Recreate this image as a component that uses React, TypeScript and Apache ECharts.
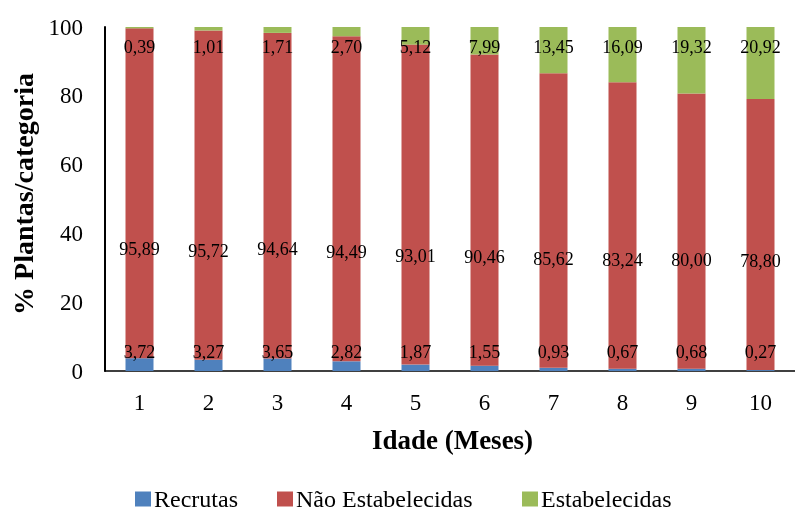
import React, { useEffect, useRef } from "react";
import * as echarts from "echarts";

const months = ["1", "2", "3", "4", "5", "6", "7", "8", "9", "10"];
const recrutas = [3.72, 3.27, 3.65, 2.82, 1.87, 1.55, 0.93, 0.67, 0.68, 0.27];
const naoEstabelecidas = [95.89, 95.72, 94.64, 94.49, 93.01, 90.46, 85.62, 83.24, 80.0, 78.8];
const estabelecidas = [0.39, 1.01, 1.71, 2.7, 5.12, 7.99, 13.45, 16.09, 19.32, 20.92];
const seriesNames = ["Recrutas", "Não Estabelecidas", "Estabelecidas"];

const serif = "Liberation Serif";
const fmt = (p: any) => Number(p.value).toFixed(2).replace(".", ",");

export default function App() {
  const ref = useRef<HTMLDivElement>(null);

  useEffect(() => {
    if (!ref.current) return;
    const chart = echarts.init(ref.current, null, { renderer: "svg" });
    const labelBase = {
      show: true,
      color: "#000",
      fontFamily: serif,
      fontSize: 18,
      formatter: fmt,
    };
    // one legend block per series so each entry sits at its own x
    const legendLefts = [135, 277, 522];
    const legends = seriesNames.map((name, i) => ({
      data: [{ name, textStyle: { fontFamily: serif } }],
      top: 487,
      left: legendLefts[i],
      padding: 0,
      itemWidth: 16,
      itemHeight: 15,
      itemGap: 0,
      icon: "rect",
      textStyle: {
        fontFamily: serif,
        fontSize: 24,
        lineHeight: 22,
        color: "#000",
        padding: [0, 0, 0, -2],
      },
    }));
    chart.setOption({
      animation: false,
      textStyle: { fontFamily: serif },
      grid: { left: 105, top: 27, bottom: 140, width: 703 },
      legend: legends,
      xAxis: {
        type: "category",
        data: months,
        axisTick: { show: false },
        axisLine: { lineStyle: { color: "#000", width: 1.5 } },
        axisLabel: { color: "#000", fontFamily: serif, fontSize: 23, margin: 20 },
        name: "Idade (Meses)",
        nameLocation: "middle",
        nameGap: 55,
        nameTextStyle: {
          color: "#000",
          fontFamily: serif,
          fontSize: 27,
          fontWeight: "bold",
          padding: [0, 0, 0, 5],
        },
      },
      yAxis: {
        type: "value",
        min: 0,
        max: 100,
        interval: 20,
        splitLine: { show: false },
        axisTick: { show: false },
        axisLine: { show: true, lineStyle: { color: "#000", width: 2 } },
        axisLabel: { color: "#000", fontFamily: serif, fontSize: 23, margin: 22 },
        name: "% Plantas/categoria",
        nameLocation: "middle",
        nameGap: 68,
        nameTextStyle: {
          color: "#000",
          fontFamily: serif,
          fontSize: 28,
          fontWeight: "bold",
          padding: [0, 0, 0, 10],
        },
      },
      series: [
        {
          name: seriesNames[0],
          type: "bar",
          stack: "total",
          barWidth: 28,
          data: recrutas,
          itemStyle: { color: "#4F81BD" },
          label: { ...labelBase, position: "insideBottom", distance: 10 },
        },
        {
          name: seriesNames[1],
          type: "bar",
          stack: "total",
          barWidth: 28,
          data: naoEstabelecidas,
          itemStyle: { color: "#C0504D" },
          label: { ...labelBase, position: "insideBottom", distance: 100 },
        },
        {
          name: seriesNames[2],
          type: "bar",
          stack: "total",
          barWidth: 28,
          data: estabelecidas,
          itemStyle: { color: "#9BBB59" },
          label: { ...labelBase, position: "insideTop", distance: 11 },
        },
      ],
    });
    return () => chart.dispose();
  }, []);

  return (
    <div
      ref={ref}
      style={{ position: "fixed", left: 0, top: 0, width: 795, height: 511 }}
    />
  );
}
